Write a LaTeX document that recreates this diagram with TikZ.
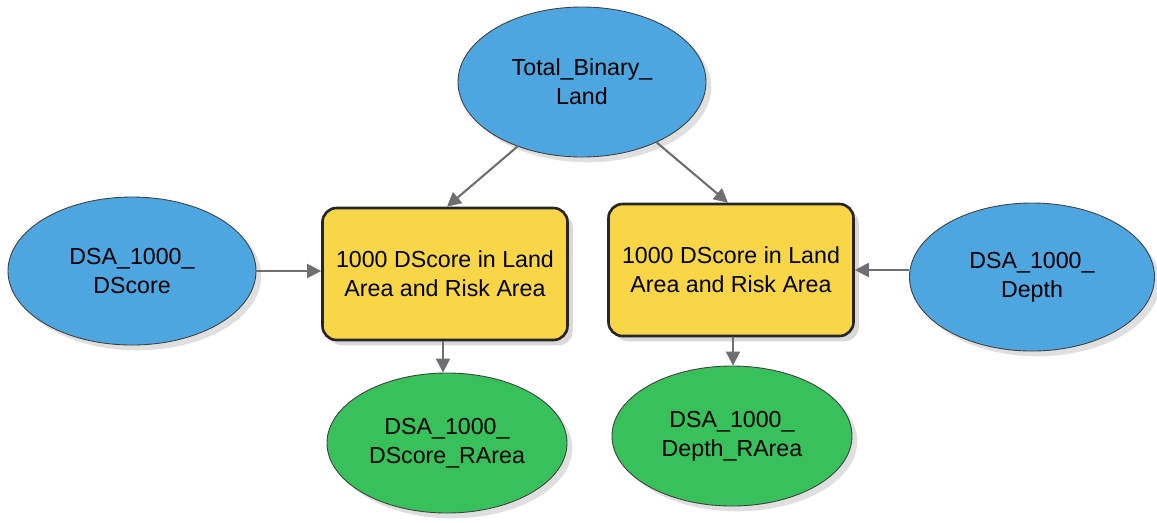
\documentclass[tikz,border=0pt]{standalone}
\usepackage{fontspec}
\setmainfont{Liberation Sans}
\usetikzlibrary{arrows.meta,shapes.geometric,shadows}

\definecolor{inblue}{HTML}{4EA6E0}
\definecolor{toolyellow}{HTML}{F8D648}
\definecolor{outgreen}{HTML}{38C05A}
\definecolor{arrgray}{HTML}{6E6E73}

\begin{document}
\begin{tikzpicture}[
x=0.02cm, y=-0.02cm,
font=\fontsize{13.2}{16.6}\selectfont,
data/.style={ellipse, draw=black!75, line width=0.5pt, inner sep=0pt, align=center,
  drop shadow={opacity=0.25, shadow xshift=3pt, shadow yshift=-3pt}},
inp/.style={data, fill=inblue},
outp/.style={data, fill=outgreen},
tool/.style={draw=black!85, line width=1.5pt, rounded corners=8pt, fill=toolyellow, align=center,
  minimum width=245*0.02cm, minimum height=132*0.02cm,
  drop shadow={opacity=0.3, shadow xshift=3pt, shadow yshift=-3pt}},
arr/.style={-{Triangle[length=8pt, width=8pt]}, draw=arrgray, fill=arrgray, line width=1.2pt}
]
\useasboundingbox (0,0) rectangle (1157,522);
\node[inp, minimum width=248*0.02cm, minimum height=150*0.02cm] (land) at (582,82) {Total\_Binary\_\\Land};
\node[inp, minimum width=248*0.02cm, minimum height=148*0.02cm] (dscore) at (132,271) {DSA\_1000\_\\DScore};
\node[inp, minimum width=245*0.02cm, minimum height=148*0.02cm] (depth) at (1032,277) {DSA\_1000\_\\Depth};
\node[tool] (t1) at (445,274) {1000 DScore in Land\\Area and Risk Area};
\node[tool] (t2) at (731,270) {1000 DScore in Land\\Area and Risk Area};
\node[outp, minimum width=240*0.02cm, minimum height=140*0.02cm] (r1) at (447,443) {DSA\_1000\_\\DScore\_RArea};
\node[outp, minimum width=240*0.02cm, minimum height=140*0.02cm] (r2) at (732,436) {DSA\_1000\_\\Depth\_RArea};
\draw[arr] (land.225) -- ([xshift=2*0.02cm]t1.north);
\draw[arr] (land.321) -- ([xshift=-3*0.02cm]t2.north);
\draw[arr] (dscore.east) -- (dscore.east -| t1.west);
\draw[arr] (depth.west |- t2.east) -- (t2.east);
\draw[arr] ([xshift=-2*0.02cm]t1.south) -- ([xshift=-2*0.02cm]t1.south |- r1.north);
\draw[arr] ([xshift=2*0.02cm]t2.south) -- ([xshift=2*0.02cm]t2.south |- r2.north);
\end{tikzpicture}
\end{document}
